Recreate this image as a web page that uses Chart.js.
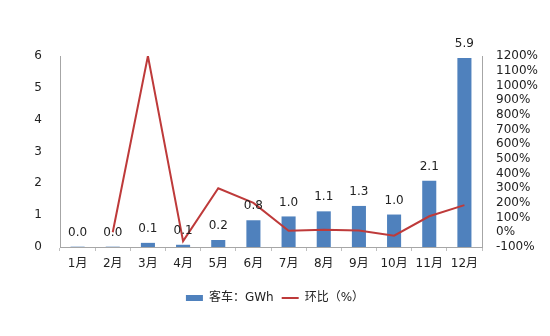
<!DOCTYPE html>
<html>
<head>
<meta charset="utf-8">
<script src="https://cdn.jsdelivr.net/npm/chart.js@4/dist/chart.umd.min.js"></script>
<style>
  html, body { margin: 0; padding: 0; background: #fff; }
  #wrap { width: 550px; height: 336px; }
</style>
</head>
<body>
<div id="wrap"><canvas id="busChart"></canvas></div>
<script>
// data
const months = ['1月', '2月', '3月', '4月', '5月', '6月', '7月', '8月', '9月', '10月', '11月', '12月'];
const busGwh = [0.01, 0.01, 0.13, 0.07, 0.22, 0.84, 0.96, 1.12, 1.29, 1.02, 2.08, 5.94];
const momPct = [null, 0, 1200, -60, 300, 200, 10, 17, 12, -23, 109, 185];
const leftTicks = [0, 1, 2, 3, 4, 5, 6];

const font = { family: 'DejaVu Sans, "Noto Sans CJK SC"', size: 12 };

// value labels above bars
const barLabels = {
  id: 'barLabels',
  afterDatasetsDraw(chart) {
    const ctx = chart.ctx;
    const meta = chart.getDatasetMeta(0);
    ctx.save();
    ctx.font = '12px DejaVu Sans';
    ctx.fillStyle = '#222';
    ctx.textAlign = 'center';
    ctx.textBaseline = 'bottom';
    meta.data.forEach((bar, i) => {
      ctx.fillText(busGwh[i].toFixed(1), bar.x, bar.y - 8);
    });
    ctx.restore();
  }
};

new Chart(document.getElementById('busChart'), {
  data: {
    labels: months,
    datasets: [
      {
        type: 'bar',
        label: '客车：GWh',
        data: busGwh,
        backgroundColor: '#4F81BD',
        barPercentage: 0.4,
        categoryPercentage: 1,
        yAxisID: 'y',
        order: 2,
        pointStyle: 'rect',
      },
      {
        type: 'line',
        label: '环比（%）',
        data: momPct,
        borderColor: '#BE3A3A',
        backgroundColor: '#BE3A3A',
        borderWidth: 2,
        pointRadius: 0,
        tension: 0,
        yAxisID: 'y1',
        order: 1,
        pointStyle: 'line',
      },
    ],
  },
  options: {
    responsive: true,
    maintainAspectRatio: false,
    animation: false,
    layout: { padding: { top: 56, bottom: 22 } },
    plugins: {
      tooltip: { enabled: false },
      legend: {
        position: 'bottom',
        labels: {
          usePointStyle: true,
          pointStyleWidth: 17,
          boxHeight: 6,
          color: '#222',
          font: font,
          padding: 8,
          sort: (a, b) => a.datasetIndex - b.datasetIndex,
        },
      },
    },
    scales: {
      x: {
        grid: { display: true, offset: true, drawOnChartArea: false, color: '#BFBFBF', tickLength: 4 },
        border: { color: '#A6A6A6' },
        ticks: { color: '#222', font: font, padding: 6 },
        afterFit: (s) => { s.height = 37; },
      },
      y: {
        position: 'left',
        min: 0,
        max: 6,
        afterBuildTicks: (s) => { s.ticks = leftTicks.map(v => ({ value: v })); },
        grid: { display: false },
        border: { color: '#A6A6A6' },
        ticks: { color: '#222', font: font, padding: 10 },
        afterFit: (s) => { s.width = 60; },
      },
      y1: {
        position: 'right',
        min: -100,
        max: 1200,
        grid: { display: false },
        border: { color: '#A6A6A6' },
        ticks: { stepSize: 100, autoSkip: false, color: '#222', font: font, padding: 6, callback: (v) => v + '%' },
        afterFit: (s) => { s.width = 68; },
      },
    },
  },
  plugins: [barLabels],
});
</script>
</body>
</html>
